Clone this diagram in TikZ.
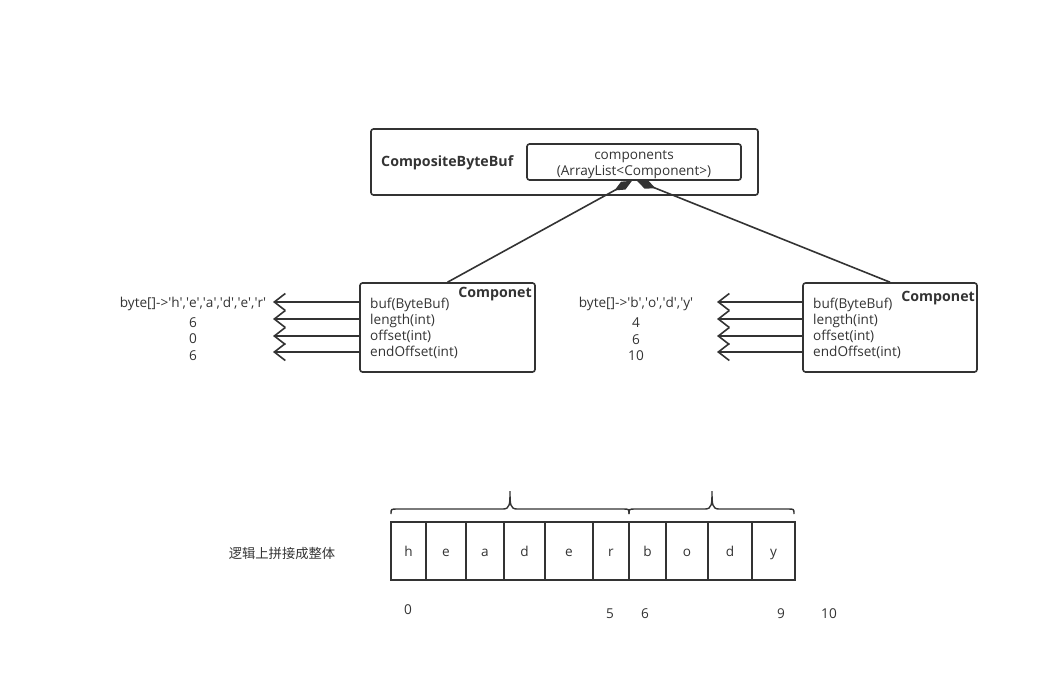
\documentclass[tikz,border=0pt]{standalone}
\usepackage{fontspec}
\setmainfont{Open Sans}
\newfontfamily\cjkfont{Noto Sans CJK SC}
\usetikzlibrary{arrows.meta}
\definecolor{ink}{HTML}{333333}
\newcommand\myq{\textquotesingle}
\begin{document}
\begin{tikzpicture}[x=1pt,y=-1pt,
  box/.style={draw=ink, line width=1.6pt, rounded corners=2.5pt, inner sep=0pt},
  txt/.style={text=ink, inner sep=0pt, yshift=-1.5pt, font=\fontsize{13.6}{16}\selectfont},
  btxt/.style={text=ink, inner sep=0pt, yshift=-1pt, font=\fontsize{14.2}{16}\selectfont\bfseries},
  cell/.style={draw=ink, line width=1.8pt, minimum height=58pt, inner sep=0pt, text height=10pt, text depth=0pt, text=ink, font=\fontsize{13.6}{16}\selectfont},
  barb/.style={draw=ink, line width=1.6pt, -{Straight Barb[length=11pt,width=17pt,line width=1.6pt]}},
  comp/.style={draw=ink, line width=1.6pt, -{Diamond[length=20pt,width=9pt,fill=ink]}},
  brace/.style={draw=ink, line width=1.4pt}]
\useasboundingbox (0,0) rectangle (1043,694);
% CompositeByteBuf
\node[box, minimum width=387pt, minimum height=66pt] (cbb) at (564.5,162) {};
\node[btxt, anchor=west] (cbbl) at (381,162) {CompositeByteBuf};
\node[box, minimum width=214pt, minimum height=36pt] (comps) at (634,162) {};
\node[txt, align=center] (compst) at (634,163) {components\\(ArrayList<Component>)};
% left component
\node[box, minimum width=175pt, minimum height=89pt] (compL) at (447.5,327.5) {};
\node[btxt, anchor=east] (compLt) at (532,293) {Componet};
\node[txt, anchor=west] (lf1) at (370,303) {buf(ByteBuf)};
\node[txt, anchor=west] (lf2) at (370,319) {length(int)};
\node[txt, anchor=west] (lf3) at (370,335) {offset(int)};
\node[txt, anchor=west] (lf4) at (370,351) {endOffset(int)};
\coordinate (la1) at (273,302);
\coordinate (la2) at (273,319);
\coordinate (la3) at (273,336);
\coordinate (la4) at (273,352);
\foreach \i in {1,...,4} \draw[barb] (compL.west |- la\i) -- (la\i);
\node[txt] (lv1) at (193,302) {byte[]->\myq h\myq,\myq e\myq,\myq a\myq,\myq d\myq,\myq e\myq,\myq r\myq};
\node[txt] (lv2) at (193,321) {6};
\node[txt] (lv3) at (193,337) {0};
\node[txt] (lv4) at (193,354) {6};
% right component
\node[box, minimum width=174pt, minimum height=89pt] (compR) at (890,327.5) {};
\node[btxt, anchor=east] (compRt) at (975,297) {Componet};
\node[txt, anchor=west] (rf1) at (813,303) {buf(ByteBuf)};
\node[txt, anchor=west] (rf2) at (813,319) {length(int)};
\node[txt, anchor=west] (rf3) at (813,335) {offset(int)};
\node[txt, anchor=west] (rf4) at (813,351) {endOffset(int)};
\coordinate (ra1) at (717,302);
\coordinate (ra2) at (717,319);
\coordinate (ra3) at (717,336);
\coordinate (ra4) at (717,352);
\foreach \i in {1,...,4} \draw[barb] (compR.west |- ra\i) -- (ra\i);
\node[txt] (rv1) at (636,302) {byte[]->\myq b\myq,\myq o\myq,\myq d\myq,\myq y\myq};
\node[txt] (rv2) at (636,321) {4};
\node[txt] (rv3) at (636,338) {6};
\node[txt] (rv4) at (636,354) {10};
% composition connectors
\draw[comp] (compL.north) -- ([xshift=-2pt]comps.south);
\draw[comp] (compR.north) -- ([xshift=3pt]comps.south);
% bottom cells
\node[cell, minimum width=35pt] (c0) at (408.5,551) {h};
\node[cell, minimum width=40pt] (c1) at (446,551) {e};
\node[cell, minimum width=38pt] (c2) at (485,551) {a};
\node[cell, minimum width=41pt] (c3) at (524.5,551) {d};
\node[cell, minimum width=48pt] (c4) at (569,551) {e};
\node[cell, minimum width=36pt] (c5) at (611,551) {r};
\node[cell, minimum width=37pt] (c6) at (647.5,551) {b};
\node[cell, minimum width=42pt] (c7) at (687,551) {o};
\node[cell, minimum width=44pt] (c8) at (730,551) {d};
\node[cell, minimum width=43pt] (c9) at (773.5,551) {y};
% braces
\draw[brace] (391,514) .. controls (391,509) .. (397,509) -- (503,509)
  .. controls (510,509) and (510,504) .. (510,491)
  .. controls (510,504) and (510,509) .. (517,509) -- (623,509)
  .. controls (629,509) .. (629,514);
\draw[brace] (629,514) .. controls (629,509) .. (635,509) -- (705,509)
  .. controls (712,509) and (712,504) .. (712,491)
  .. controls (712,504) and (712,509) .. (719,509) -- (788,509)
  .. controls (794,509) .. (794,514);
% labels
\node[txt, font=\cjkfont\fontsize{13.3}{16}\selectfont] (lbl) at (282,552) {逻辑上拼接成整体};
\node[txt] (n0) at (408,608) {0};
\node[txt] (n5) at (610,612) {5};
\node[txt] (n6) at (645,612) {6};
\node[txt] (n9) at (781,612) {9};
\node[txt] (n10) at (829,612) {10};
\end{tikzpicture}
\end{document}
